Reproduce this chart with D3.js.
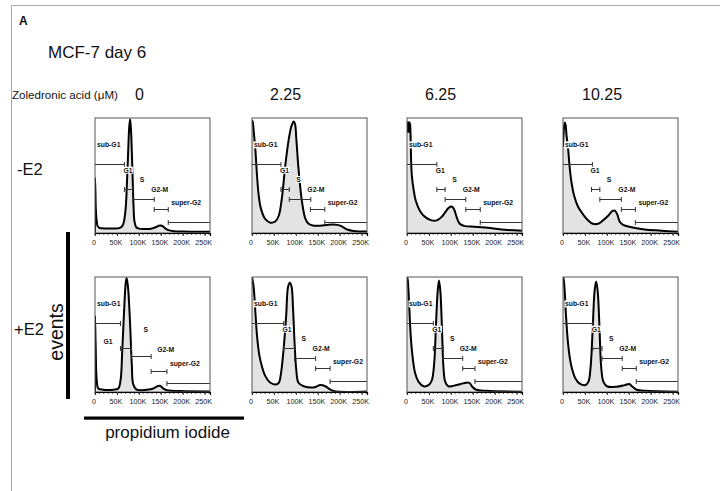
<!DOCTYPE html>
<html><head><meta charset="utf-8">
<script src="https://cdn.jsdelivr.net/npm/d3@7"></script>
<style>body{margin:0;background:#fff} svg{display:block}</style>
</head><body>
<svg id="chart" width="720" height="491"></svg>
<script>
// ---------------- data ----------------
const conditions = ["-E2", "+E2"];
const doses = ["0", "2.25", "6.25", "10.25"];
const tickValues = [0, 50, 100, 150, 200, 250];
const tickLabels = ["0", "50K", "100K", "150K", "200K", "250K"];
const gateNames = ["sub-G1", "G1", "S", "G2-M", "super-G2"];
const xMaxK = 262.144;

// histograms: [propidium iodide (K), relative events]
const histMinusE2_0 = [[0,0],[0,0.48],[1,0.35],[2,0.2],[4,0.1],[6,0.06],[10,0.045],[20,0.04],[40,0.04],[55,0.042],[62,0.06],[66,0.1],[70,0.22],[73,0.45],[76,0.75],[78,0.92],[80,0.99],[82,0.9],[84,0.7],[86,0.45],[88,0.22],[90,0.1],[94,0.05],[100,0.038],[115,0.035],[130,0.04],[138,0.05],[145,0.063],[150,0.066],[155,0.058],[160,0.04],[167,0.025],[180,0.016],[200,0.013],[230,0.011],[262,0.01]];
const histMinusE2_225 = [[0,0.98],[2,0.96],[4,0.88],[7.6,0.73],[11.4,0.5],[15.2,0.33],[20.5,0.21],[30.4,0.12],[41.8,0.09],[53,0.1],[61,0.15],[68,0.3],[76,0.59],[84,0.82],[90,0.93],[95,0.97],[98,0.95],[101,0.82],[106,0.56],[114,0.27],[122,0.12],[129,0.08],[141,0.064],[156,0.064],[171,0.07],[186,0.073],[201,0.064],[217,0.03],[232,0.017],[262,0.012]];
const histMinusE2_625 = [[0,0.88],[0.5,0.96],[1,0.88],[1.5,0.96],[2,0.88],[2.5,0.96],[3,0.88],[3.5,0.96],[4,0.88],[4.5,0.96],[5,0.88],[5.5,0.96],[6,0.88],[6.5,0.96],[7,0.88],[7.5,0.95],[8.5,0.78],[9.5,0.62],[11,0.5],[15,0.38],[20,0.28],[30,0.19],[41,0.14],[56,0.11],[68,0.11],[79,0.14],[87,0.18],[94,0.215],[100,0.23],[104,0.225],[108,0.2],[113,0.14],[120,0.08],[132,0.06],[154,0.055],[184,0.045],[215,0.03],[262,0.02]];
const histMinusE2_1025 = [[0,0.75],[2,0.9],[4,0.96],[6,0.94],[8,0.85],[11,0.76],[15,0.58],[19,0.45],[25,0.33],[34,0.23],[46,0.16],[57,0.11],[68,0.08],[80,0.08],[91,0.11],[103,0.15],[112,0.19],[118,0.195],[124,0.16],[129,0.1],[137,0.07],[156,0.05],[186,0.03],[224,0.02],[262,0.01]];
const histPlusE2_0 = [[0,0],[0,0.66],[1.5,0.4],[3.8,0.11],[7.6,0.03],[19,0.02],[42,0.02],[53,0.03],[58.5,0.11],[62,0.35],[66,0.68],[70,0.95],[72,0.99],[74,0.95],[76,0.88],[80,0.59],[84,0.23],[87,0.07],[95,0.02],[118,0.02],[133,0.03],[142,0.05],[148,0.054],[156,0.03],[165,0.015],[194,0.008],[262,0.005]];
const histPlusE2_225 = [[0,1.0],[3.8,0.91],[7.6,0.7],[11.4,0.49],[16.7,0.32],[22.8,0.22],[30,0.14],[42,0.08],[53,0.066],[61,0.08],[66,0.16],[72,0.37],[78,0.67],[82,0.91],[86,0.95],[90,0.92],[93.5,0.73],[97,0.43],[101,0.19],[106,0.08],[118,0.05],[141,0.04],[156,0.06],[167,0.05],[175,0.03],[186,0.008],[262,0.004]];
const histPlusE2_625 = [[0,1.0],[1.5,0.98],[3.8,0.85],[6,0.67],[9,0.46],[13.6,0.28],[18.8,0.16],[26,0.09],[38,0.05],[49,0.06],[56.5,0.1],[62,0.25],[66,0.58],[70,0.88],[73,0.97],[76,0.88],[80,0.52],[83,0.22],[87,0.09],[94,0.05],[113,0.06],[128,0.075],[142,0.08],[149,0.045],[158,0.02],[181,0.01],[262,0.003]];
const histPlusE2_1025 = [[0,1.0],[1.5,0.98],[3.8,0.88],[6.8,0.67],[10.6,0.46],[15,0.31],[20,0.21],[28,0.12],[39,0.07],[51,0.06],[58,0.09],[63,0.22],[68,0.58],[72,0.88],[75.5,0.96],[79,0.88],[83,0.58],[87,0.22],[92,0.09],[100,0.05],[122,0.045],[141,0.06],[151,0.07],[158.5,0.045],[168,0.02],[190,0.01],[262,0.003]];

// gates: [start K, end K] for sub-G1, G1, S, G2-M, super-G2
const gatesMinusE2_0 = [[0,67],[67,86],[86,135],[135,167],[167,262]];
const gatesMinusE2_225 = [[0,66],[66,85],[85,134],[133,166],[166,262]];
const gatesMinusE2_625 = [[0,68],[68,87],[87,134],[134,167],[167,262]];
const gatesMinusE2_1025 = [[0,67],[65,84],[84,133],[133,165],[165,262]];
const gatesPlusE2_0 = [[0,58],[58,83],[83,128],[128,164],[164,262]];
const gatesPlusE2_225 = [[0,72],[72,97],[97,145],[145,178],[178,262]];
const gatesPlusE2_625 = [[0,60],[60,82],[82,127],[127,155],[155,262]];
const gatesPlusE2_1025 = [[0,68],[68,89],[89,135],[135,167],[167,262]];

const histograms = [
  [histMinusE2_0, histMinusE2_225, histMinusE2_625, histMinusE2_1025],
  [histPlusE2_0, histPlusE2_225, histPlusE2_625, histPlusE2_1025]
];
const gates = [
  [gatesMinusE2_0, gatesMinusE2_225, gatesMinusE2_625, gatesMinusE2_1025],
  [gatesPlusE2_0, gatesPlusE2_225, gatesPlusE2_625, gatesPlusE2_1025]
];

// ---------------- layout ----------------
const layout = {
  colX: [95, 252, 407, 563],
  rowY: [118, 277],
  w: 115, h: 115,
  gateLevels: [0.40, 0.62, 0.70, 0.79, 0.90],
  labelDx: [2, -1, 7, -3, 3],
  labelRise: [19, 19, 19, 19, 19],
  doseX: [135, 270, 425, 582],
  rowLabelY: [175, 335],
  rowLabelX: [17, 14]
};
// panel specific adjustments (row 1, col 0)
const overrides = {
  "1-0": { gateLevels: [0.40, 0.62, 0.69, 0.82, 0.92], labelDx: [2, -17, 12, 6, 3], labelRise: [19, 7, 27, 22, 19] }
};

const FONT = "'Liberation Sans', Arial, Helvetica, sans-serif";
const svg = d3.select("#chart");
svg.append("rect").attr("width", 720).attr("height", 491).attr("fill", "#fff");

// figure border (top and left)
svg.append("line").attr("x1", 11.5).attr("x2", 720).attr("y1", 5.5).attr("y2", 5.5).attr("stroke", "#a8a8a8").attr("stroke-width", 1);
svg.append("line").attr("x1", 11.5).attr("x2", 11.5).attr("y1", 5.5).attr("y2", 491).attr("stroke", "#a8a8a8").attr("stroke-width", 1);

// headings
svg.append("text").attr("x", 19).attr("y", 25).attr("font-family", FONT).attr("font-weight", "bold").attr("font-size", 12).attr("fill", "#111").text("A");
svg.append("text").attr("x", 48).attr("y", 58).attr("font-family", FONT).attr("font-size", 17).attr("fill", "#111").text("MCF-7 day 6");
svg.append("text").attr("x", 12).attr("y", 99).attr("font-family", FONT).attr("font-size", 11.6).attr("fill", "#111").text("Zoledronic acid (μM)");
svg.selectAll("text.dose").data(doses).join("text").attr("class", "dose")
  .attr("x", (d, i) => layout.doseX[i]).attr("y", 100)
  .attr("font-family", FONT).attr("font-size", 16).attr("fill", "#111").text(d => d);
svg.selectAll("text.cond").data(conditions).join("text").attr("class", "cond")
  .attr("x", (d, i) => layout.rowLabelX[i]).attr("y", (d, i) => layout.rowLabelY[i])
  .attr("font-family", FONT).attr("font-size", 16.5).attr("fill", "#111").text(d => d);

// "events" axis marker
svg.append("rect").attr("x", 66).attr("y", 232).attr("width", 4).attr("height", 167).attr("fill", "#000");
svg.append("text").attr("transform", "translate(63,332) rotate(-90)").attr("text-anchor", "middle")
  .attr("font-family", FONT).attr("font-size", 19.5).attr("fill", "#111").text("events");
// "propidium iodide" axis marker
svg.append("rect").attr("x", 84).attr("y", 416.5).attr("width", 160).attr("height", 3.2).attr("fill", "#000");
svg.append("text").attr("x", 167.5).attr("y", 438).attr("text-anchor", "middle")
  .attr("font-family", FONT).attr("font-size", 17).attr("fill", "#111").text("propidium iodide");

const x = d3.scaleLinear().domain([0, xMaxK]).range([0, layout.w]);
const y = d3.scaleLinear().domain([0, 1]).range([layout.h, 0]);
const area = d3.area().x(d => x(d[0])).y0(layout.h).y1(d => y(d[1])).curve(d3.curveCatmullRom.alpha(0.5));
const line = d3.line().x(d => x(d[0])).y(d => y(d[1])).curve(d3.curveCatmullRom.alpha(0.5));

const defs = svg.append("defs");
defs.append("clipPath").attr("id", "pclip").append("rect").attr("x", 0).attr("y", 0).attr("width", layout.w).attr("height", layout.h);

histograms.forEach((row, r) => {
  row.forEach((hist, c) => {
    const key = r + "-" + c;
    const ov = overrides[key] || {};
    const levels = ov.gateLevels || layout.gateLevels;
    const ldx = ov.labelDx || layout.labelDx;
    const lrise = ov.labelRise || layout.labelRise;
    const g = svg.append("g").attr("transform", `translate(${layout.colX[c]},${layout.rowY[r]})`);
    const plot = g.append("g").attr("clip-path", "url(#pclip)");
    plot.append("path").datum(hist).attr("d", area).attr("fill", "#e3e3e3");
    plot.append("path").datum(hist).attr("d", line).attr("fill", "none").attr("stroke", "#000").attr("stroke-width", 2).attr("stroke-linejoin", "round");

    // gates
    const gg = g.append("g");
    gates[r][c].forEach((gt, k) => {
      const gy = Math.round(layout.h * levels[k]) + 0.5;
      const x0 = x(gt[0]), x1 = Math.min(x(gt[1]), layout.w);
      gg.append("line").attr("x1", x0).attr("x2", x1).attr("y1", gy).attr("y2", gy).attr("stroke", "#333").attr("stroke-width", 1);
      [x0, x1].forEach(xx => {
        if (xx > 0.5 && xx < layout.w - 0.5)
          gg.append("line").attr("x1", xx).attr("x2", xx).attr("y1", gy - 2.5).attr("y2", gy + 2.5).attr("stroke", "#333").attr("stroke-width", 1);
      });
    });
    // gate labels
    gates[r][c].forEach((gt, k) => {
      const gy = layout.h * levels[k];
      const lx = k === 0 ? ldx[k] : x(gt[0]) + ldx[k];
      const ly = gy - lrise[k];
      const t = g.append("text").attr("x", lx).attr("y", ly + 2.4)
        .attr("font-family", FONT).attr("font-weight", "bold").attr("font-size", 6.8).attr("fill", "#111").text(gateNames[k]);
      const bb = t.node().getBBox();
      g.insert("rect", () => t.node()).attr("x", bb.x - 0.5).attr("y", bb.y).attr("width", bb.width + 1).attr("height", bb.height).attr("fill", "#fff");
    });

    // frame
    g.append("rect").attr("x", 0).attr("y", 0).attr("width", layout.w).attr("height", layout.h)
      .attr("fill", "none").attr("stroke", "#555").attr("stroke-width", 1);
    // x axis
    const minor = d3.range(0, 261, 10);
    g.selectAll("line.minor").data(minor).join("line").attr("class", "minor")
      .attr("x1", d => x(d)).attr("x2", d => x(d)).attr("y1", layout.h).attr("y2", layout.h + 2)
      .attr("stroke", "#333").attr("stroke-width", 0.8);
    const ax = g.append("g").attr("transform", `translate(0,${layout.h})`)
      .call(d3.axisBottom(x).tickValues(tickValues).tickFormat((d, i) => tickLabels[i]).tickSize(3).tickPadding(4));
    ax.select(".domain").attr("stroke", "#000").attr("stroke-width", 1.2);
    ax.selectAll(".tick line").attr("stroke", "#333");
    ax.selectAll(".tick text").attr("font-family", FONT).attr("font-size", 7.2).attr("fill", "#222").attr("dx", -1.5);
  });
});
</script>
</body></html>
